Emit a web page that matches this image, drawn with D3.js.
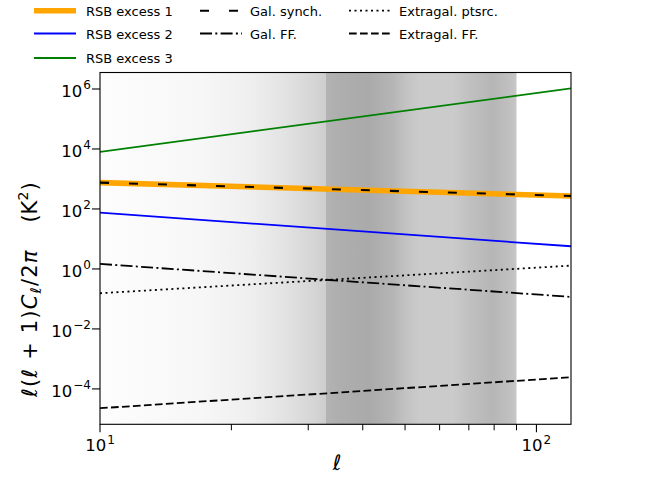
<!DOCTYPE html>
<html>
<head>
<meta charset="utf-8">
<script src="https://cdn.jsdelivr.net/npm/d3@7"></script>
<style>
  body { margin: 0; background: #fff; }
  svg { font-family: "DejaVu Sans", sans-serif; }
  text { white-space: pre; }
</style>
</head>
<body>
<script>
// Angular power spectra vs multipole, log-log

// Multipoles at which the power laws are sampled
var ells = [10, 120];

// l(l+1)C_l/2pi in K^2
var rsbExcess1 = [753, 271];
var rsbExcess2 = [75, 5.7];
var rsbExcess3 = [7943, 1.05e6];
var galSynch = [753, 271];
var galFF = [1.47, 0.117];
var extragalPtsrc = [0.155, 1.29];
var extragalFF = [2.27e-5, 2.45e-4];

// Grey shading behind the curves (multipole, grey level)
var shadeEll  = [10, 16.85, 21.9, 26.1, 31.2, 32.9, 32.9, 35.4, 41.5, 46.8, 50.4, 54, 64.3, 70.3, 79.3, 85.4, 90];
var shadeGrey = [253, 247, 239, 228, 212, 205, 179, 174, 170, 181, 195, 203, 203, 192, 182, 190, 198];

var xTicks = [10, 100];
var xTickExp = ["1", "2"];
var yTicks = [1e-4, 1e-2, 1, 1e2, 1e4, 1e6];
var yTickExp = ["\u22124", "\u22122", "0", "2", "4", "6"];

var series = [
    {label: "RSB excess 1", values: rsbExcess1, color: "orange", width: 5.6, dash: null},
    {label: "RSB excess 2", values: rsbExcess2, color: "blue", width: 1.8, dash: null},
    {label: "RSB excess 3", values: rsbExcess3, color: "green", width: 1.8, dash: null},
    {label: "Gal. synch.", values: galSynch, color: "black", width: 2.1, dash: "9,20"},
    {label: "Gal. FF.", values: galFF, color: "black", width: 1.8, dash: "12,3.3,2,3.3"},
    {label: "Extragal. ptsrc.", values: extragalPtsrc, color: "black", width: 1.8, dash: "2,3.5"},
    {label: "Extragal. FF.", values: extragalFF, color: "black", width: 1.8, dash: "7.7,3.3"}
];

// Setup
var w = 656, h = 481;
var plotLeft = 100, plotRight = 571, plotTop = 72.5, plotBottom = 424.3;

var x = d3.scaleLog().domain([10, 120]).range([plotLeft, plotRight]);
var y = d3.scaleLog().domain([Math.pow(10, -5.18), Math.pow(10, 6.55)]).range([plotBottom, plotTop]);

var svg = d3.select("body").append("svg")
    .attr("width", w)
    .attr("height", h);

var defs = svg.append("defs");

defs.append("clipPath").attr("id", "plotclip")
    .append("rect")
    .attr("x", plotLeft).attr("y", plotTop)
    .attr("width", plotRight - plotLeft).attr("height", plotBottom - plotTop);

// Shading gradient, stops placed through the x scale
var x0 = x(shadeEll[0]);
var x1 = x(shadeEll[shadeEll.length - 1]);
var grad = defs.append("linearGradient")
    .attr("id", "shade")
    .attr("gradientUnits", "userSpaceOnUse")
    .attr("x1", x0).attr("x2", x1)
    .attr("y1", 0).attr("y2", 0);

grad.selectAll("stop")
    .data(shadeEll)
    .enter()
    .append("stop")
    .attr("offset", function(d) { return (x(d) - x0) / (x1 - x0); })
    .attr("stop-color", function(d, i) {
        var g = shadeGrey[i];
        return d3.rgb(g, g, g).toString();
    });

svg.append("rect")
    .attr("x", x0).attr("y", plotTop)
    .attr("width", x1 - x0).attr("height", plotBottom - plotTop)
    .attr("fill", "url(#shade)");

// Curves
var line = d3.line()
    .x(function(d, i) { return x(ells[i]); })
    .y(function(d) { return y(d); });

var curves = svg.append("g").attr("clip-path", "url(#plotclip)");

curves.selectAll("path")
    .data(series)
    .enter()
    .append("path")
    .attr("d", function(d) { return line(d.values); })
    .attr("fill", "none")
    .attr("stroke", function(d) { return d.color; })
    .attr("stroke-width", function(d) { return d.width; })
    .attr("stroke-dasharray", function(d) { return d.dash; });

// Axes frame
svg.append("rect")
    .attr("x", plotLeft).attr("y", plotTop)
    .attr("width", plotRight - plotLeft).attr("height", plotBottom - plotTop)
    .attr("fill", "none")
    .attr("stroke", "black")
    .attr("stroke-width", 1.1);

// x ticks
var xMinor = d3.range(2, 10).map(function(k) { return k * 10; });
svg.selectAll("line.xminor")
    .data(xMinor)
    .enter()
    .append("line")
    .attr("class", "xminor")
    .attr("x1", function(d) { return x(d); })
    .attr("x2", function(d) { return x(d); })
    .attr("y1", plotBottom).attr("y2", plotBottom + 6)
    .attr("stroke", "black").attr("stroke-width", 1);

svg.selectAll("line.xmajor")
    .data(xTicks)
    .enter()
    .append("line")
    .attr("class", "xmajor")
    .attr("x1", function(d) { return x(d); })
    .attr("x2", function(d) { return x(d); })
    .attr("y1", plotBottom).attr("y2", plotBottom + 8)
    .attr("stroke", "black").attr("stroke-width", 1.1);

var xLab = svg.selectAll("text.xtick")
    .data(xTicks)
    .enter()
    .append("text")
    .attr("class", "xtick")
    .attr("x", function(d) { return x(d); })
    .attr("y", 451)
    .attr("text-anchor", "middle")
    .attr("font-size", 16.5);
xLab.append("tspan").text("10");
xLab.append("tspan")
    .attr("dx", 1)
    .attr("dy", -7.5)
    .attr("font-size", 12)
    .text(function(d, i) { return xTickExp[i]; });

// y ticks
svg.selectAll("line.ymajor")
    .data(yTicks)
    .enter()
    .append("line")
    .attr("class", "ymajor")
    .attr("x1", plotLeft - 8).attr("x2", plotLeft)
    .attr("y1", function(d) { return y(d); })
    .attr("y2", function(d) { return y(d); })
    .attr("stroke", "black").attr("stroke-width", 1.1);

var yLab = svg.selectAll("text.ytick")
    .data(yTicks)
    .enter()
    .append("text")
    .attr("class", "ytick")
    .attr("x", 91)
    .attr("y", function(d) { return y(d) + 8; })
    .attr("text-anchor", "end")
    .attr("font-size", 16.5);
yLab.append("tspan").text("10");
yLab.append("tspan")
    .attr("dx", 1)
    .attr("dy", -7.5)
    .attr("font-size", 12)
    .text(function(d, i) { return yTickExp[i]; });

// Axis labels
svg.append("text")
    .attr("x", 337).attr("y", 470)
    .attr("text-anchor", "middle")
    .attr("font-size", 21)
    .attr("font-style", "italic")
    .text("\u2113");

var yTitle = svg.append("text")
    .attr("transform", "translate(37,289) rotate(-90)")
    .attr("text-anchor", "middle")
    .attr("font-size", 21)
    .attr("letter-spacing", 1.2);
yTitle.append("tspan").attr("font-style", "italic").text("\u2113");
yTitle.append("tspan").text("(");
yTitle.append("tspan").attr("font-style", "italic").text("\u2113");
yTitle.append("tspan").text(" + 1)");
yTitle.append("tspan").attr("font-style", "italic").text("C");
yTitle.append("tspan").attr("font-style", "italic").attr("font-size", 15).attr("dy", 4).text("\u2113");
yTitle.append("tspan").attr("dy", -4).text("/2");
yTitle.append("tspan").attr("font-style", "italic").text("\u03c0");
yTitle.append("tspan").attr("letter-spacing", 0).text("    (K");
yTitle.append("tspan").attr("font-size", 14).attr("dy", -9).text("2");
yTitle.append("tspan").attr("dy", 9).text(")");

// Legend, three columns
var legendPos = [
    {lx: 34, tx: 86, cy: 10.7},
    {lx: 34, tx: 86, cy: 33.5},
    {lx: 34, tx: 86, cy: 58},
    {lx: 200, tx: 250, cy: 10.7},
    {lx: 200, tx: 250, cy: 33.5},
    {lx: 349, tx: 399, cy: 10.7},
    {lx: 349, tx: 399, cy: 33.5}
];

var legend = svg.append("g")
    .selectAll("g")
    .data(series)
    .enter()
    .append("g")
    .attr("transform", function(d, i) {
        return "translate(" + legendPos[i].lx + "," + legendPos[i].cy + ")";
    });

legend.append("line")
    .attr("x1", 0).attr("x2", 42)
    .attr("y1", 0).attr("y2", 0)
    .attr("stroke", function(d) { return d.color; })
    .attr("stroke-width", function(d) { return d.width; })
    .attr("stroke-dasharray", function(d) { return d.dash; });

legend.append("text")
    .attr("x", function(d, i) { return legendPos[i].tx - legendPos[i].lx; })
    .attr("y", 5)
    .attr("font-size", 13)
    .text(function(d) { return d.label; });
</script>
</body>
</html>
